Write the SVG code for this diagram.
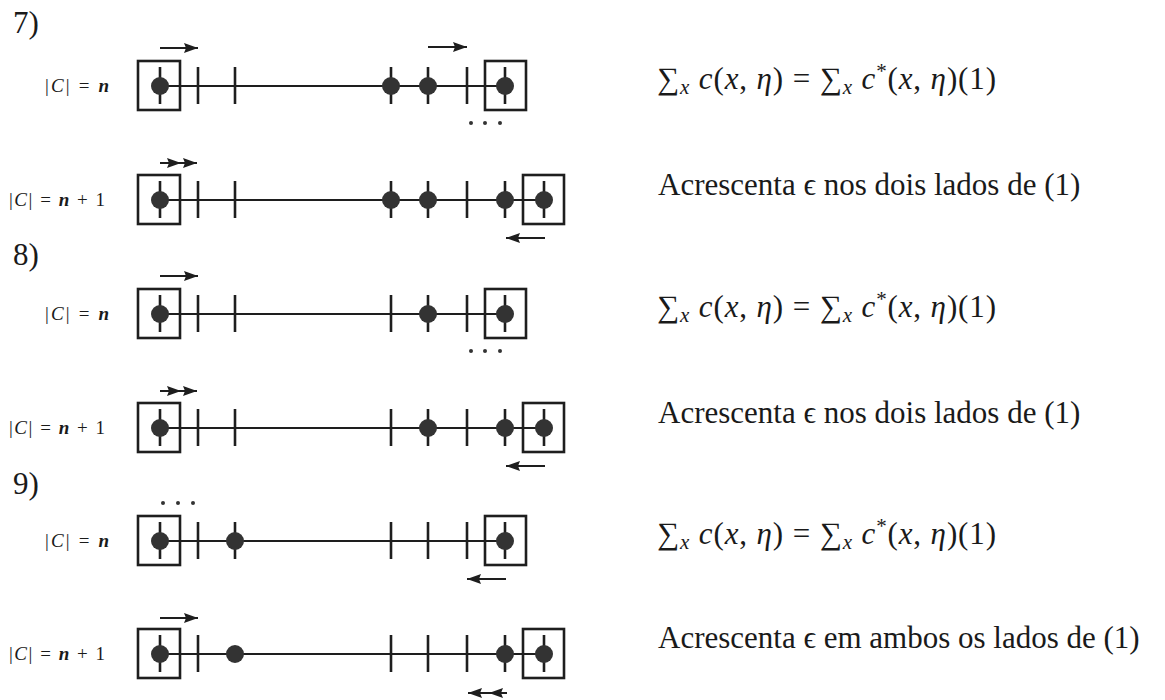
<svg xmlns="http://www.w3.org/2000/svg" width="1165" height="700" viewBox="0 0 1165 700">
<style>
.bg{fill:#ffffff}
.ln{stroke:#1e1e1e;stroke-width:2;fill:none}
.tk{stroke:#1e1e1e;stroke-width:2.6;fill:none}
.bx{stroke:#1e1e1e;stroke-width:2.6;fill:none}
.dot{fill:#333333}
.sm{fill:#333333}
.ar{stroke:#1e1e1e;stroke-width:2.2;fill:none;marker-end:url(#ah)}
.ar2{stroke:#1e1e1e;stroke-width:2.2;fill:none;marker-mid:url(#ah);marker-end:url(#ah)}
.sec{font-family:"Liberation Serif","DejaVu Serif",serif;font-size:31px;fill:#1a1a1a}
.lab{font-family:"Liberation Serif","DejaVu Serif",serif;font-size:19px;fill:#1a1a1a}
.txt{font-family:"Liberation Serif","DejaVu Serif",serif;font-size:31px;fill:#1a1a1a}
.i{font-style:italic;fill:#1a1a1a}
.sub{font-style:italic;font-size:21px}
.sup{font-size:21px}
</style>
<defs>
<marker id="ah" markerUnits="userSpaceOnUse" markerWidth="15" markerHeight="11" refX="14" refY="5.5" orient="auto">
<path d="M0,0.5 L14,5.5 L0,10.5 L2,5.5 z" fill="#1e1e1e"/>
</marker>
</defs>
<rect class="bg" x="0" y="0" width="1165" height="700"/>

<g id="section-labels">
<text class="sec" x="13" y="33">7)</text>
<text class="sec" x="13" y="265">8)</text>
<text class="sec" x="13" y="494">9)</text>
</g>

<!-- Row 7, |C| = n -->
<g id="row7a">
<text class="lab" x="45" y="92" textLength="64" lengthAdjust="spacing">|<tspan class="i">C</tspan>| = <tspan class="i" font-weight="bold">n</tspan></text>
<line class="ln" x1="160" y1="86" x2="505" y2="86"/>
<rect class="bx" x="138" y="61" width="42" height="49"/>
<rect class="bx" x="485" y="61" width="41" height="49"/>
<line class="tk" x1="198" y1="67" x2="198" y2="104"/>
<line class="tk" x1="235" y1="67" x2="235" y2="104"/>
<line class="tk" x1="467" y1="67" x2="467" y2="104"/>
<line class="tk" x1="160" y1="67" x2="160" y2="104"/>
<line class="tk" x1="391" y1="67" x2="391" y2="104"/>
<line class="tk" x1="428" y1="67" x2="428" y2="104"/>
<line class="tk" x1="505" y1="67" x2="505" y2="104"/>
<circle class="dot" cx="160" cy="86" r="9"/>
<circle class="dot" cx="391" cy="86" r="9"/>
<circle class="dot" cx="428" cy="86" r="9"/>
<circle class="dot" cx="505" cy="86" r="9"/>
<circle class="sm" cx="471" cy="123" r="2"/>
<circle class="sm" cx="485" cy="123" r="2"/>
<circle class="sm" cx="500" cy="123" r="2"/>
<text class="txt" x="657" y="89" textLength="339" lengthAdjust="spacing">∑<tspan class="sub" dy="5">x</tspan><tspan dy="-5"> </tspan><tspan class="i">c</tspan>(<tspan class="i">x</tspan>, <tspan class="i">η</tspan>) = ∑<tspan class="sub" dy="5">x</tspan><tspan dy="-5"> </tspan><tspan class="i">c</tspan><tspan class="sup" dy="-11">*</tspan><tspan dy="11">(</tspan><tspan class="i">x</tspan>, <tspan class="i">η</tspan>)(1)</text>
</g>

<!-- Row 7, |C| = n+1 -->
<g id="row7b">
<text class="lab" x="9" y="206" textLength="96" lengthAdjust="spacing">|<tspan class="i">C</tspan>| = <tspan class="i" font-weight="bold">n</tspan> + 1</text>
<line class="ln" x1="160" y1="200" x2="544" y2="200"/>
<rect class="bx" x="138" y="175" width="42" height="49"/>
<rect class="bx" x="523" y="175" width="41" height="49"/>
<line class="tk" x1="198" y1="181" x2="198" y2="218"/>
<line class="tk" x1="235" y1="181" x2="235" y2="218"/>
<line class="tk" x1="467" y1="181" x2="467" y2="218"/>
<line class="tk" x1="160" y1="181" x2="160" y2="218"/>
<line class="tk" x1="391" y1="181" x2="391" y2="218"/>
<line class="tk" x1="428" y1="181" x2="428" y2="218"/>
<line class="tk" x1="505" y1="181" x2="505" y2="218"/>
<line class="tk" x1="544" y1="181" x2="544" y2="218"/>
<circle class="dot" cx="160" cy="200" r="9"/>
<circle class="dot" cx="391" cy="200" r="9"/>
<circle class="dot" cx="428" cy="200" r="9"/>
<circle class="dot" cx="505" cy="200" r="9"/>
<circle class="dot" cx="544" cy="200" r="9"/>
<text class="txt" x="658" y="195">Acrescenta ϵ nos dois lados de (1)</text>
</g>

<!-- Row 8, |C| = n -->
<g id="row8a">
<text class="lab" x="45" y="320" textLength="64" lengthAdjust="spacing">|<tspan class="i">C</tspan>| = <tspan class="i" font-weight="bold">n</tspan></text>
<line class="ln" x1="160" y1="314" x2="505" y2="314"/>
<rect class="bx" x="138" y="289" width="42" height="49"/>
<rect class="bx" x="485" y="289" width="41" height="49"/>
<line class="tk" x1="198" y1="295" x2="198" y2="332"/>
<line class="tk" x1="235" y1="295" x2="235" y2="332"/>
<line class="tk" x1="391" y1="295" x2="391" y2="332"/>
<line class="tk" x1="467" y1="295" x2="467" y2="332"/>
<line class="tk" x1="160" y1="295" x2="160" y2="332"/>
<line class="tk" x1="428" y1="295" x2="428" y2="332"/>
<line class="tk" x1="505" y1="295" x2="505" y2="332"/>
<circle class="dot" cx="160" cy="314" r="9"/>
<circle class="dot" cx="428" cy="314" r="9"/>
<circle class="dot" cx="505" cy="314" r="9"/>
<circle class="sm" cx="471" cy="351" r="2"/>
<circle class="sm" cx="485" cy="351" r="2"/>
<circle class="sm" cx="500" cy="351" r="2"/>
<text class="txt" x="657" y="317" textLength="339" lengthAdjust="spacing">∑<tspan class="sub" dy="5">x</tspan><tspan dy="-5"> </tspan><tspan class="i">c</tspan>(<tspan class="i">x</tspan>, <tspan class="i">η</tspan>) = ∑<tspan class="sub" dy="5">x</tspan><tspan dy="-5"> </tspan><tspan class="i">c</tspan><tspan class="sup" dy="-11">*</tspan><tspan dy="11">(</tspan><tspan class="i">x</tspan>, <tspan class="i">η</tspan>)(1)</text>
</g>

<!-- Row 8, |C| = n+1 -->
<g id="row8b">
<text class="lab" x="9" y="434" textLength="96" lengthAdjust="spacing">|<tspan class="i">C</tspan>| = <tspan class="i" font-weight="bold">n</tspan> + 1</text>
<line class="ln" x1="160" y1="428" x2="544" y2="428"/>
<rect class="bx" x="138" y="403" width="42" height="49"/>
<rect class="bx" x="523" y="403" width="41" height="49"/>
<line class="tk" x1="198" y1="409" x2="198" y2="446"/>
<line class="tk" x1="235" y1="409" x2="235" y2="446"/>
<line class="tk" x1="391" y1="409" x2="391" y2="446"/>
<line class="tk" x1="467" y1="409" x2="467" y2="446"/>
<line class="tk" x1="160" y1="409" x2="160" y2="446"/>
<line class="tk" x1="428" y1="409" x2="428" y2="446"/>
<line class="tk" x1="505" y1="409" x2="505" y2="446"/>
<line class="tk" x1="544" y1="409" x2="544" y2="446"/>
<circle class="dot" cx="160" cy="428" r="9"/>
<circle class="dot" cx="428" cy="428" r="9"/>
<circle class="dot" cx="505" cy="428" r="9"/>
<circle class="dot" cx="544" cy="428" r="9"/>
<text class="txt" x="658" y="423">Acrescenta ϵ nos dois lados de (1)</text>
</g>

<!-- Row 9, |C| = n -->
<g id="row9a">
<text class="lab" x="45" y="547" textLength="64" lengthAdjust="spacing">|<tspan class="i">C</tspan>| = <tspan class="i" font-weight="bold">n</tspan></text>
<line class="ln" x1="160" y1="541" x2="505" y2="541"/>
<rect class="bx" x="138" y="516" width="42" height="49"/>
<rect class="bx" x="485" y="516" width="41" height="49"/>
<line class="tk" x1="198" y1="522" x2="198" y2="559"/>
<line class="tk" x1="391" y1="522" x2="391" y2="559"/>
<line class="tk" x1="428" y1="522" x2="428" y2="559"/>
<line class="tk" x1="467" y1="522" x2="467" y2="559"/>
<line class="tk" x1="160" y1="522" x2="160" y2="559"/>
<line class="tk" x1="235" y1="522" x2="235" y2="559"/>
<line class="tk" x1="505" y1="522" x2="505" y2="559"/>
<circle class="dot" cx="160" cy="541" r="9"/>
<circle class="dot" cx="235" cy="541" r="9"/>
<circle class="dot" cx="505" cy="541" r="9"/>
<circle class="sm" cx="163" cy="503" r="2"/>
<circle class="sm" cx="178" cy="503" r="2"/>
<circle class="sm" cx="193" cy="503" r="2"/>
<text class="txt" x="657" y="544" textLength="339" lengthAdjust="spacing">∑<tspan class="sub" dy="5">x</tspan><tspan dy="-5"> </tspan><tspan class="i">c</tspan>(<tspan class="i">x</tspan>, <tspan class="i">η</tspan>) = ∑<tspan class="sub" dy="5">x</tspan><tspan dy="-5"> </tspan><tspan class="i">c</tspan><tspan class="sup" dy="-11">*</tspan><tspan dy="11">(</tspan><tspan class="i">x</tspan>, <tspan class="i">η</tspan>)(1)</text>
</g>

<!-- Row 9, |C| = n+1 -->
<g id="row9b">
<text class="lab" x="9" y="660" textLength="96" lengthAdjust="spacing">|<tspan class="i">C</tspan>| = <tspan class="i" font-weight="bold">n</tspan> + 1</text>
<line class="ln" x1="160" y1="654" x2="544" y2="654"/>
<rect class="bx" x="138" y="629" width="42" height="49"/>
<rect class="bx" x="523" y="629" width="41" height="49"/>
<line class="tk" x1="198" y1="635" x2="198" y2="672"/>
<line class="tk" x1="391" y1="635" x2="391" y2="672"/>
<line class="tk" x1="428" y1="635" x2="428" y2="672"/>
<line class="tk" x1="467" y1="635" x2="467" y2="672"/>
<line class="tk" x1="160" y1="635" x2="160" y2="672"/>
<line class="tk" x1="505" y1="635" x2="505" y2="672"/>
<line class="tk" x1="544" y1="635" x2="544" y2="672"/>
<circle class="dot" cx="160" cy="654" r="9"/>
<circle class="dot" cx="235" cy="654" r="9"/>
<circle class="dot" cx="505" cy="654" r="9"/>
<circle class="dot" cx="544" cy="654" r="9"/>
<text class="txt" x="658" y="648">Acrescenta ϵ em ambos os lados de (1)</text>
</g>

<g id="connectors">
<line class="ar" x1="160" y1="48" x2="198" y2="48"/>
<line class="ar" x1="428" y1="47" x2="467" y2="47"/>
<polyline class="ar2" points="160,163 181,163 197,163"/>
<line class="ar" x1="545" y1="238" x2="506" y2="238"/>
<line class="ar" x1="160" y1="276" x2="198" y2="276"/>
<polyline class="ar2" points="160,391 181,391 197,391"/>
<line class="ar" x1="545" y1="466" x2="506" y2="466"/>
<line class="ar" x1="506" y1="579" x2="467" y2="579"/>
<line class="ar" x1="160" y1="618" x2="198" y2="618"/>
<polyline class="ar2" points="507,693 489,693 468,693"/>
</g>
</svg>
